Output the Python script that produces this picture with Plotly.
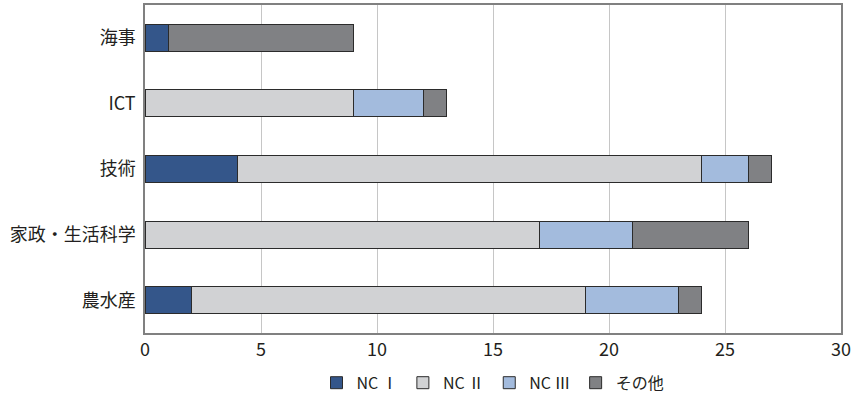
import plotly.graph_objects as go

categories = ["海事", "ICT", "技術", "家政・生活科学", "農水産"]
series_names = ["NC Ⅰ", "NC Ⅱ", "NC Ⅲ", "その他"]
nc1 = [1, 0, 4, 0, 2]
nc2 = [0, 9, 20, 17, 17]
nc3 = [0, 3, 2, 4, 4]
other = [8, 1, 1, 5, 1]
x_ticks = [0, 5, 10, 15, 20, 25, 30]

colors = ["#34568a", "#d1d2d4", "#a3bbdd", "#808184"]
values = [nc1, nc2, nc3, other]

font_family = "Noto Sans CJK JP"

fig = go.Figure()
for name, vals, col in zip(series_names, values, colors):
    fig.add_trace(go.Bar(
        y=categories, x=vals, name=name, orientation="h",
        marker=dict(color=col, line=dict(color="#2b2b2b", width=1)),
    ))

fig.update_layout(
    barmode="stack",
    bargap=0.59,
    width=856, height=397,
    margin=dict(l=145, r=15, t=5, b=64, autoexpand=False),
    plot_bgcolor="white", paper_bgcolor="white",
    font=dict(family=font_family, size=16, color="#231f20"),
    legend=dict(orientation="h", x=0.5, xanchor="center", y=-0.1, yanchor="top",
                font=dict(size=16), itemwidth=30, traceorder="normal"),
    showlegend=True,
)
fig.update_xaxes(
    range=[0, 30], tickvals=x_ticks, showgrid=True, gridcolor="#c6c6c6", gridwidth=1,
    showline=True, linecolor="#808080", linewidth=1.5, mirror=True,
    ticks="", zeroline=False, tickfont=dict(size=18),
)
fig.update_yaxes(
    autorange="reversed", showline=True, linecolor="#808080", linewidth=1.5, mirror=True,
    ticks="", tickfont=dict(size=18), ticklabelstandoff=4,
)
fig.write_html("out.html")
